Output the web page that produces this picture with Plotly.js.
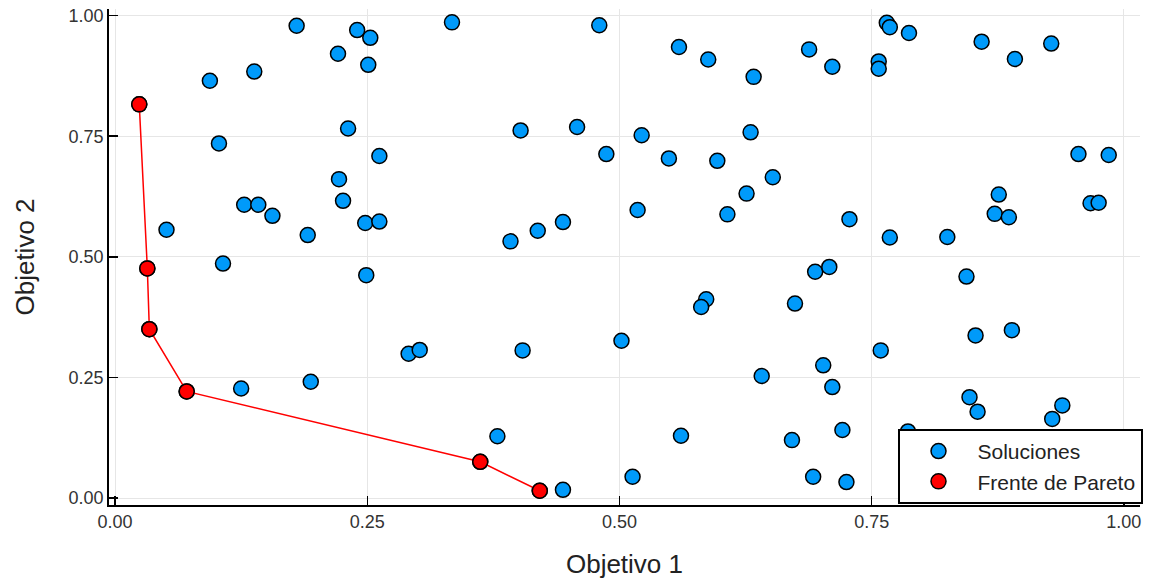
<!DOCTYPE html>
<html>
<head>
<meta charset="utf-8">
<script src="https://cdn.plot.ly/plotly-3.0.1.min.js"></script>
<style>
  html, body { margin: 0; padding: 0; background: #fff; }
  #chart { width: 1151px; height: 579px; }
</style>
</head>
<body>
<div id="chart"></div>
<script>
// Random candidate solutions in the (Objetivo 1, Objetivo 2) space
const solucionesX = [
  0.180, 0.240, 0.253, 0.334, 0.480, 0.221, 0.251, 0.094, 0.138, 0.559,
  0.588, 0.633, 0.688, 0.711, 0.757, 0.757, 0.765, 0.768, 0.787, 0.859,
  0.892, 0.928, 0.231, 0.103, 0.262, 0.402, 0.458, 0.487, 0.522, 0.549,
  0.597, 0.630, 0.652, 0.626, 0.955, 0.985, 0.222, 0.226, 0.128, 0.142,
  0.156, 0.051, 0.191, 0.248, 0.262, 0.392, 0.419, 0.444, 0.518, 0.607,
  0.876, 0.872, 0.886, 0.967, 0.975, 0.728, 0.768, 0.825, 0.107, 0.249,
  0.694, 0.708, 0.844, 0.586, 0.581, 0.674, 0.853, 0.889, 0.291, 0.302,
  0.404, 0.502, 0.759, 0.125, 0.194, 0.641, 0.702, 0.711, 0.847, 0.855,
  0.939, 0.929, 0.721, 0.671, 0.379, 0.561, 0.444, 0.513, 0.692, 0.725,
  0.786,
  0.024, 0.032, 0.034, 0.071, 0.362, 0.421
];
const solucionesY = [
  0.979, 0.970, 0.954, 0.986, 0.980, 0.921, 0.898, 0.865, 0.884, 0.935,
  0.909, 0.873, 0.930, 0.894, 0.905, 0.890, 0.985, 0.976, 0.964, 0.946,
  0.910, 0.942, 0.766, 0.735, 0.709, 0.762, 0.769, 0.713, 0.752, 0.704,
  0.699, 0.758, 0.665, 0.631, 0.713, 0.711, 0.661, 0.616, 0.608, 0.608,
  0.585, 0.556, 0.545, 0.570, 0.573, 0.532, 0.554, 0.572, 0.597, 0.588,
  0.629, 0.589, 0.582, 0.611, 0.612, 0.578, 0.540, 0.541, 0.486, 0.462,
  0.469, 0.479, 0.459, 0.412, 0.396, 0.403, 0.337, 0.348, 0.299, 0.307,
  0.306, 0.326, 0.306, 0.227, 0.241, 0.253, 0.275, 0.230, 0.209, 0.179,
  0.192, 0.164, 0.141, 0.120, 0.128, 0.129, 0.017, 0.044, 0.044, 0.033,
  0.138,
  0.816, 0.476, 0.350, 0.221, 0.075, 0.015
];

// Non-dominated solutions (Pareto front), ordered along the front
const paretoX = [0.024, 0.032, 0.034, 0.071, 0.362, 0.421];
const paretoY = [0.816, 0.476, 0.350, 0.221, 0.075, 0.015];

const tickVals = [0, 0.25, 0.5, 0.75, 1];
const tickText = ["0.00", "0.25", "0.50", "0.75", "1.00"];

const FONT = "Liberation Sans, Arial, Helvetica, sans-serif";

const traces = [
  {
    x: solucionesX, y: solucionesY,
    type: "scatter", mode: "markers",
    name: "Soluciones",
    marker: { color: "rgb(0,154,250)", size: 15, line: { color: "#000", width: 1.5 } }
  },
  {
    x: paretoX, y: paretoY,
    type: "scatter", mode: "lines",
    showlegend: false, hoverinfo: "skip",
    line: { color: "#ff0000", width: 1.5 }
  },
  {
    x: paretoX, y: paretoY,
    type: "scatter", mode: "markers",
    name: "Frente de Pareto",
    marker: { color: "#ff0000", size: 15, line: { color: "#000", width: 1.5 } }
  }
];

const axisCommon = {
  tickvals: tickVals, ticktext: tickText,
  ticks: "inside", ticklen: 9, tickwidth: 1.5, tickcolor: "#000",
  showline: true, linecolor: "#000", linewidth: 1.8, mirror: false,
  showgrid: true, gridcolor: "#e6e6e6", gridwidth: 1,
  zeroline: false,
  tickfont: { family: FONT, size: 18, color: "#333" },
  automargin: false
};

const layout = {
  width: 1151, height: 579,
  margin: { l: 109, r: 11, t: 9, b: 74, autoexpand: false },
  paper_bgcolor: "#fff", plot_bgcolor: "#fff",
  showlegend: true,
  xaxis: Object.assign({}, axisCommon, {
    range: [-0.006, 1.016],
    title: { text: "Objetivo 1", font: { family: FONT, size: 26, color: "#222" }, standoff: 26 }
  }),
  yaxis: Object.assign({}, axisCommon, {
    range: [-0.0145, 1.0137],
    title: { text: "Objetivo 2", font: { family: FONT, size: 26, color: "#222" }, standoff: 26 }
  }),
  legend: {
    x: 0.765, y: 0.153, xanchor: "left", yanchor: "top",
    bgcolor: "#fff", bordercolor: "#000", borderwidth: 1.8,
    font: { family: FONT, size: 21, color: "#222" },
    itemwidth: 68
  }
};

Plotly.newPlot("chart", traces, layout, { displayModeBar: false, staticPlot: true });
</script>
</body>
</html>
